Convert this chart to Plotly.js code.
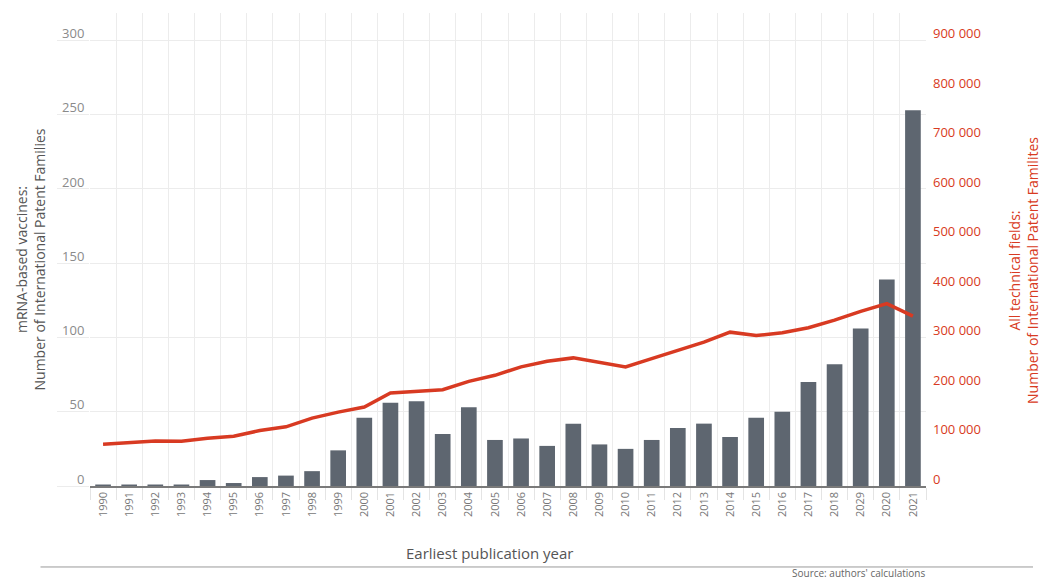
<!DOCTYPE html>
<html>
<head>
<meta charset="utf-8">
<script src="https://cdn.plot.ly/plotly-3.0.1.min.js"></script>
<style>html,body{margin:0;padding:0;background:#fff;}#chart{width:1042px;height:581px;}</style>
</head>
<body>
<div id="chart"></div>
<script>
const years = ["1990","1991","1992","1993","1994","1995","1996","1997","1998","1999","2000","2001","2002","2003","2004","2005","2006","2007","2008","2009","2010","2011","2012","2013","2014","2015","2016","2017","2018","2029","2020","2021"];
const mrnaFamilies = [1,1,1,1,4,2,6,7,10,24,46,56,57,35,53,31,32,27,42,28,25,31,39,42,33,46,50,70,82,106,139,253];
const allFieldsFamilies = [84500,87800,91000,90600,96600,100700,112000,119600,137200,149300,159500,187900,192000,194600,211400,223600,240600,252000,258800,250000,240600,257400,274300,290500,310800,304000,309500,319600,335100,352700,368300,343200];
const leftTicks = [0,50,100,150,200,250,300];
const rightTicks = [0,100000,200000,300000,400000,500000,600000,700000,800000,900000];

const FONT = "Open Sans, Lato, DejaVu Sans, sans-serif";
const RED = "#d83a22";

const traces = [
  {type:"bar", x: years, y: mrnaFamilies, marker:{color:"#5e6670"}, hoverinfo:"skip", name:"mRNA-based vaccines"},
  {type:"scatter", mode:"lines", x: years, y: allFieldsFamilies, yaxis:"y2", line:{color:RED, width:3.5}, hoverinfo:"skip", name:"All technical fields"}
];

const layout = {
  width:1042, height:581,
  margin:{l:89.5, r:116, t:13, b:95},
  paper_bgcolor:"#fff", plot_bgcolor:"#fff",
  showlegend:false,
  bargap:0.4,
  separators:". ",
  font:{family:FONT, color:"#888"},
  xaxis:{
    type:"category",
    tickvals: years, ticktext: years,
    tickangle:-90,
    tickson:"boundaries",
    ticks:"outside", ticklen:12, tickcolor:"#e4e4e4", tickwidth:1,
    showgrid:true, gridcolor:"#ececec", gridwidth:1,
    showline:true, linecolor:"#7a7a7a", linewidth:1.5,
    tickfont:{size:11, color:"#777", family:FONT},
    fixedrange:true
  },
  yaxis:{
    range:[0,318.5], tickvals:leftTicks,
    showgrid:true, gridcolor:"#ececec", gridwidth:1,
    zeroline:false, showline:false,
    ticks:"outside", ticklen:32, tickcolor:"#ececec",
    ticklabelstandoff:-30, ticklabelshift:-7,
    tickfont:{size:13, color:"#8a8a8a", family:FONT},
    fixedrange:true
  },
  yaxis2:{
    overlaying:"y", side:"right",
    range:[0,955500], tickvals:rightTicks, tickformat:",d",
    showgrid:false, zeroline:false, showline:false,
    ticklabelstandoff:6, ticklabelshift:-7,
    tickfont:{size:13, color:RED, family:FONT},
    fixedrange:true
  },
  shapes:[
    {type:"line", xref:"paper", yref:"paper", x0:-0.0592, x1:1.128, y0:-0.1712, y1:-0.1712, line:{color:"#999", width:1}}
  ],
  annotations:[
    {xref:"paper", yref:"paper", x:0.4788, y:-0.1416, xanchor:"center", yanchor:"middle", showarrow:false,
     text:"Earliest publication year", font:{size:15, color:"#555", family:FONT}},
    {xref:"paper", yref:"paper", x:-0.0711, y:0.478, xanchor:"center", yanchor:"middle", showarrow:false, textangle:-90,
     text:"mRNA-based vaccines:<br>Number of International Patent Families", font:{size:14, color:"#555", family:FONT}},
    {xref:"paper", yref:"paper", x:1.1172, y:0.4567, xanchor:"center", yanchor:"middle", showarrow:false, textangle:-90,
     text:"All technical fields:<br>Number of International Patent Familites", font:{size:14, color:RED, family:FONT}},
    {xref:"paper", yref:"paper", x:1.0024, y:-0.1845, xanchor:"right", yanchor:"middle", showarrow:false,
     text:"Source: authors' calculations", font:{size:10, color:"#666", family:FONT}}
  ]
};

Plotly.newPlot("chart", traces, layout, {displayModeBar:false, staticPlot:true});
</script>
</body>
</html>
